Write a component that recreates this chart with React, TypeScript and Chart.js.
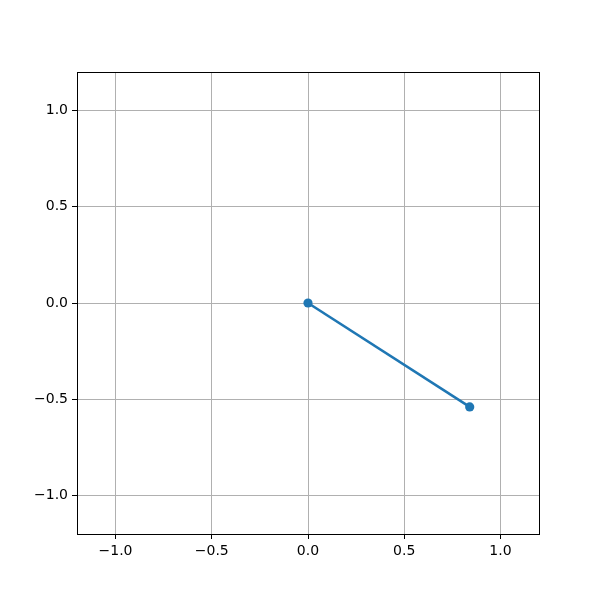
import React, { useEffect, useRef } from "react";
import { Chart, registerables } from "chart.js";

Chart.register(...registerables);

const xValues = [0, 0.84];
const yValues = [0, -0.54];
const tickValues = [-1.0, -0.5, 0.0, 0.5, 1.0];
const axisMin = -1.2;
const axisMax = 1.2;

const fmt = (v: number) => v.toFixed(1).replace("-", "\u2212");

const framePlugin = {
  id: "frame",
  afterDatasetsDraw(chart: any) {
    const { ctx, chartArea } = chart;
    ctx.save();
    ctx.strokeStyle = "#000";
    ctx.lineWidth = 1;
    ctx.strokeRect(
      Math.round(chartArea.left) + 0.5,
      Math.round(chartArea.top) + 0.5,
      Math.round(chartArea.right - chartArea.left),
      Math.round(chartArea.bottom - chartArea.top)
    );
    ctx.restore();
  },
};

export default function App() {
  const ref = useRef<HTMLCanvasElement>(null);
  useEffect(() => {
    if (!ref.current) return;
    const points = xValues.map((x, i) => ({ x, y: yValues[i] }));
    const font = { family: "DejaVu Sans", size: 14 };
    const scaleCommon = (axis: "x" | "y") => ({
      type: "linear" as const,
      min: axisMin,
      max: axisMax,
      afterBuildTicks: (s: any) => {
        s.ticks = tickValues.map((v) => ({ value: v }));
      },
      afterFit: (s: any) => {
        if (axis === "y") s.width = 77;
        else s.height = 66;
      },
      ticks: {
        color: "#000",
        font,
        padding: 4,
        callback: (v: any) => fmt(Number(v)),
      },
      grid: {
        color: "#b0b0b0",
        lineWidth: 1,
        tickColor: "#000",
        tickLength: 5,
        drawTicks: true,
      },
      border: { display: false },
    });
    const chart = new Chart(ref.current, {
      type: "scatter",
      data: {
        datasets: [
          {
            data: points,
            showLine: true,
            borderColor: "#1f77b4",
            backgroundColor: "#1f77b4",
            borderWidth: 2.6,
            pointRadius: 4.6,
            pointBorderWidth: 0,
          },
        ],
      },
      options: {
        animation: false,
        responsive: false,
        layout: { padding: { left: 0, top: 72, right: 61, bottom: 0 } },
        plugins: { legend: { display: false }, tooltip: { enabled: false } },
        scales: { x: scaleCommon("x"), y: scaleCommon("y") },
      },
      plugins: [framePlugin],
    });
    return () => chart.destroy();
  }, []);
  return (
    <div style={{ position: "absolute", left: 0, top: 0, width: 600, height: 600, background: "#fff" }}>
      <canvas ref={ref} width={600} height={600} style={{ width: 600, height: 600 }} />
    </div>
  );
}
